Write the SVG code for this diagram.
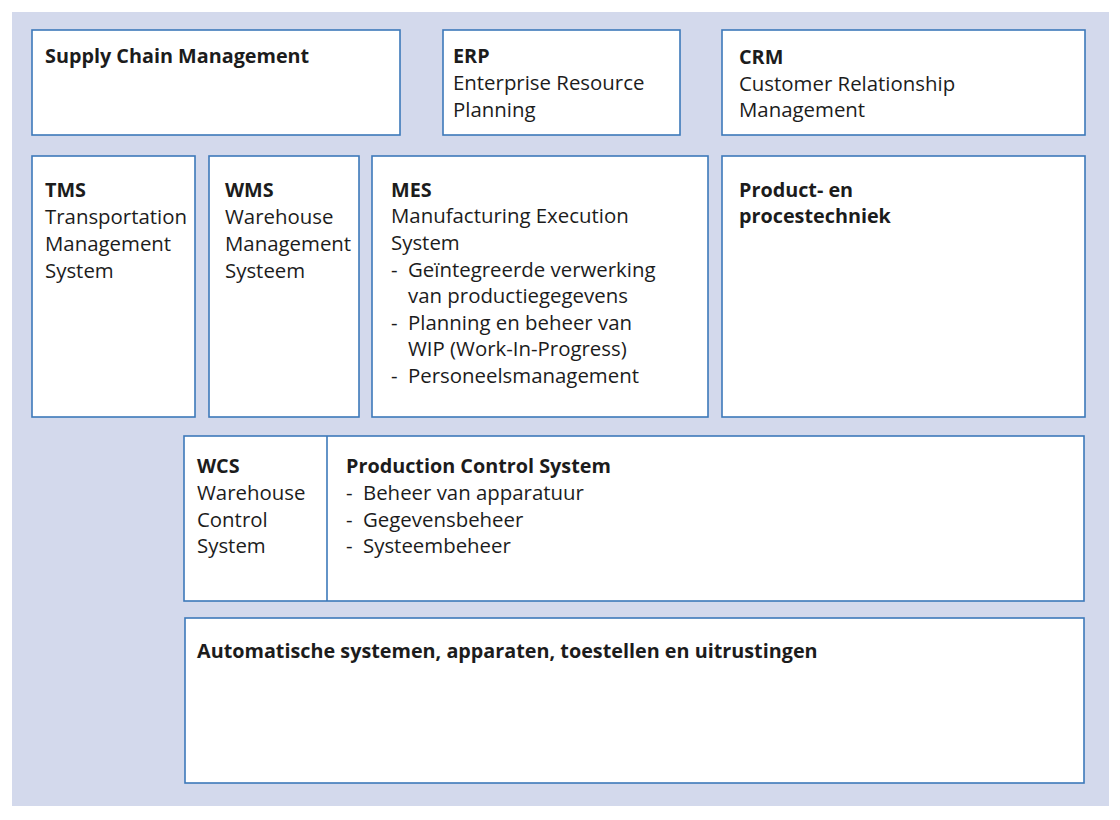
<svg xmlns="http://www.w3.org/2000/svg" width="1120" height="820" viewBox="0 0 1120 820">
<style>
.box{fill:#ffffff;stroke:#3d79ba;stroke-width:1.6}
.line{stroke:#3d79ba;stroke-width:1.6;fill:none}
text{font-family:"Open Sans","Liberation Sans",sans-serif;font-size:20.4px;fill:#1c1c1c}
.b{font-weight:700;font-size:19.8px}
</style>
<rect x="0" y="0" width="1120" height="820" fill="#ffffff"/>
<rect x="12" y="12" width="1097" height="794" fill="#d3d9ec"/>
<g id="scm">
<rect class="box" x="32" y="30" width="368" height="105"/>
<text class="b" x="45" y="63">Supply Chain Management</text>
</g>
<g id="erp">
<rect class="box" x="443" y="30" width="237" height="105"/>
<text class="b" x="453" y="63">ERP</text>
<text x="453" y="90">Enterprise Resource</text>
<text x="453" y="117">Planning</text>
</g>
<g id="crm">
<rect class="box" x="722" y="30" width="363" height="105"/>
<text class="b" x="739" y="64">CRM</text>
<text x="739" y="91">Customer Relationship</text>
<text x="739" y="117">Management</text>
</g>
<g id="tms">
<rect class="box" x="32" y="156" width="163" height="261"/>
<text class="b" x="45" y="197">TMS</text>
<text x="45" y="224">Transportation</text>
<text x="45" y="251">Management</text>
<text x="45" y="278">System</text>
</g>
<g id="wms">
<rect class="box" x="209" y="156" width="150" height="261"/>
<text class="b" x="225" y="197">WMS</text>
<text x="225" y="224">Warehouse</text>
<text x="225" y="251">Management</text>
<text x="225" y="278">Systeem</text>
</g>
<g id="mes">
<rect class="box" x="372" y="156" width="336" height="261"/>
<text class="b" x="391" y="197">MES</text>
<text x="391" y="223">Manufacturing Execution</text>
<text x="391" y="250">System</text>
<text x="391" y="277">-</text>
<text x="408" y="277">Geïntegreerde verwerking</text>
<text x="408" y="303">van productiegegevens</text>
<text x="391" y="330">-</text>
<text x="408" y="330">Planning en beheer van</text>
<text x="408" y="356">WIP (Work-In-Progress)</text>
<text x="391" y="383">-</text>
<text x="408" y="383">Personeelsmanagement</text>
</g>
<g id="product">
<rect class="box" x="722" y="156" width="363" height="261"/>
<text class="b" x="739" y="197">Product- en</text>
<text class="b" x="739" y="223">procestechniek</text>
</g>
<g id="wcs-pcs">
<rect class="box" x="184" y="436" width="900" height="165"/>
<text class="b" x="197" y="473">WCS</text>
<text x="197" y="500">Warehouse</text>
<text x="197" y="527">Control</text>
<text x="197" y="553">System</text>
<text class="b" x="346" y="473">Production Control System</text>
<text x="346" y="500">-</text>
<text x="363" y="500">Beheer van apparatuur</text>
<text x="346" y="527">-</text>
<text x="363" y="527">Gegevensbeheer</text>
<text x="346" y="553">-</text>
<text x="363" y="553">Systeembeheer</text>
</g>
<g id="connectors">
<line class="line" x1="327" y1="436" x2="327" y2="601"/>
</g>
<g id="auto">
<rect class="box" x="185" y="618" width="899" height="165"/>
<text class="b" x="197" y="658">Automatische systemen, apparaten, toestellen en uitrustingen</text>
</g>
</svg>
